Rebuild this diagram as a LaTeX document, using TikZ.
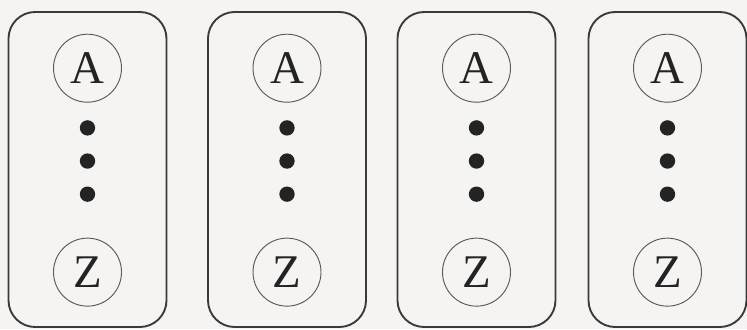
\documentclass[tikz,border=0pt]{standalone}
\usepackage{fontspec}
\setmainfont{Liberation Serif}
\usepackage{tikz}
\usetikzlibrary{positioning}
\definecolor{paper}{HTML}{F5F4F2}
\definecolor{frame}{HTML}{3A3A3A}
\definecolor{ring}{HTML}{5A5A5A}
\definecolor{ink}{HTML}{232323}

\begin{document}
\begin{tikzpicture}[
    x=0.03cm, y=-0.03cm,
    node distance=0.52cm,
    every node/.style={font=\fontsize{40}{40}\selectfont, text=ink},
    group/.style={
        rectangle,
        rounded corners=0.8cm,
        draw=frame,
        line width=1.6pt,
        minimum width=4.74cm,
        minimum height=9.45cm
    },
    letter/.style={
        circle,
        draw=ring,
        line width=0.8pt,
        minimum size=2.04cm,
        inner sep=0pt
    },
    dot/.style={circle, fill=ink, minimum size=0.46cm, inner sep=0pt}
]

\fill[paper] (0,0) rectangle (747,329);
\useasboundingbox (0,0) rectangle (747,329);

% first group
\node[group] (g1) at (87.5,169.5) {};
\node[letter, below=0.68cm of g1.north] (a1) {A};
\node[dot, below=of a1] (d1a) {};
\node[dot, below=of d1a] (d1b) {};
\node[dot, below=of d1b] (d1c) {};
\node[letter, above=0.64cm of g1.south] (z1) {Z};

% second group
\node[group] (g2) at (287,169.5) {};
\node[letter, below=0.68cm of g2.north] (a2) {A};
\node[dot, below=of a2] (d2a) {};
\node[dot, below=of d2a] (d2b) {};
\node[dot, below=of d2b] (d2c) {};
\node[letter, above=0.64cm of g2.south] (z2) {Z};

% third group
\node[group] (g3) at (476.5,169.5) {};
\node[letter, below=0.68cm of g3.north] (a3) {A};
\node[dot, below=of a3] (d3a) {};
\node[dot, below=of d3a] (d3b) {};
\node[dot, below=of d3b] (d3c) {};
\node[letter, above=0.64cm of g3.south] (z3) {Z};

% fourth group
\node[group] (g4) at (667.5,169.5) {};
\node[letter, below=0.68cm of g4.north] (a4) {A};
\node[dot, below=of a4] (d4a) {};
\node[dot, below=of d4a] (d4b) {};
\node[dot, below=of d4b] (d4c) {};
\node[letter, above=0.64cm of g4.south] (z4) {Z};

\end{tikzpicture}
\end{document}
